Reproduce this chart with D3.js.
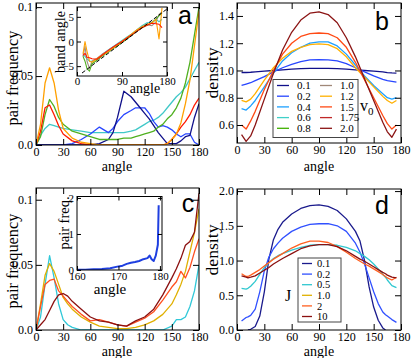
<!DOCTYPE html>
<html>
<head>
<meta charset="utf-8">
<title>pair frequency / density vs angle</title>
<script src="https://d3js.org/d3.v7.min.js"></script>
<style>
body { margin: 0; background: white; }
svg text { font-family: "Liberation Serif", "Tinos", "Times New Roman", Times, "Nimbus Roman", "DejaVu Serif", serif; fill: black; }
svg text.letter { font-family: "Liberation Sans", Arimo, Arial, Helvetica, sans-serif; font-size: 25px; }
</style>
</head>
<body>
<script>
var width = 411, height = 358;

// ---- panel a : pair frequency vs angle
var angleA = [0,5,10,15,20,25,30,40,50,60,70,80,85,90,97,105,110,115,120,125,130,135,140,145,150,155,160,165,170,175,180];
var aNavy  = [0,0,0,0,0,0,0,0,0,0,0.001,0.004,0.009,0.02,0.039,0.035,0.031,0.027,0.023,0.019,0.014,0.009,0.005,0.001,0.001,0.001,0.003,0.006,0.007,0.02,0.03];
var aBlue  = [0,0,0,0,0,0,0,0.001,0.004,0.008,0.013,0.009,0.012,0.017,0.022,0.025,0.027,0.027,0.027,0.023,0.017,0.013,0.014,0.013,0.011,0.008,0.006,0.008,0.008,0.002,0];
var aTurq  = [0,0.007,0.012,0.015,0.014,0.013,0.012,0.011,0.01,0.009,0.009,0.009,0.009,0.009,0.009,0.01,0.011,0.013,0.015,0.017,0.018,0.02,0.023,0.027,0.031,0.035,0.038,0.042,0.048,0.054,0.06];
var aGreen = [0,0.006,0.022,0.033,0.028,0.02,0.015,0.01,0.008,0.006,0.004,0.004,0.004,0.004,0.005,0.005,0.006,0.007,0.008,0.009,0.01,0.013,0.015,0.019,0.022,0.027,0.034,0.045,0.06,0.08,0.1];
var aOrange= [0,0.015,0.045,0.056,0.045,0.025,0.012,0.005,0.002,0.001,0,0,0,0,0,0,0,0,0,0,0,0,0,0.001,0.004,0.008,0.016,0.03,0.047,0.072,0.097];
var aRed   = [0,0.01,0.027,0.029,0.022,0.014,0.008,0.003,0.001,0,0,0,0,0,0,0,0,0,0,0,0,0,0,0.001,0.004,0.008,0.013,0.017,0.022,0.029,0.034];

// inset a : band angle vs angle
var angleIn = [12,16,20,25,30,40,50,60,70,80,90,100,110,120,130,140,150,158,164,170];
var inGray  = [-3,-1,-4,-5.5,-4,-3.4,-2.6,-1.9,-1.2,-0.6,0,0.7,1.4,2.2,3.0,3.4,3.2,4.0,5.5,6.0];
var inOrange= [-2.5,0,-2,-4,-4.2,-3.5,-2.8,-2.2,-1.5,-0.8,0,0.8,1.6,2.4,3.0,3.5,3.8,4.5,0.5,6.8];
var inGreen = [-3,-4,-5.5,-6,-4.5,-3.8,-3,-2.3,-1.6,-0.9,-0.2,0.5,1.3,2.1,2.8,3.3,3.8,4.6,5.2,5.8];
var inTurq  = [-2.7,-3,-3.5,-4,-4,-3.6,-2.7,-1.9,-1.2,-0.5,0.2,0.9,1.6,2.4,3.2,3.8,3.9,4.5,4.0,4.5];
var inRed   = [-2.8,-2.4,-3.2,-3.3,-3.5,-3.6,-2.8,-2.0,-1.3,-0.6,0,0.7,1.4,2.1,2.8,3.3,3.7,3.6,3.5,2.8];
var refAngle = [10, 180];
var refBand  = [-6.4, 6.6];

// ---- panel b : density vs angle for v0
var angleB = [5,10,15,20,30,40,50,60,70,80,90,100,110,120,130,140,150,160,165,170,175];
var b01 = [0.985,0.985,0.987,0.99,0.995,1.0,1.005,1.01,1.013,1.015,1.016,1.015,1.013,1.01,1.005,1.0,0.995,0.99,0.985,0.982,0.98];
var b02 = [0.89,0.9,0.91,0.925,0.955,0.99,1.02,1.045,1.065,1.078,1.08,1.078,1.07,1.05,1.02,0.99,0.96,0.935,0.925,0.92,0.915];
var b04 = [0.72,0.71,0.74,0.78,0.88,0.98,1.07,1.13,1.17,1.2,1.21,1.21,1.18,1.12,1.04,0.96,0.89,0.83,0.8,0.79,0.8];
var b12 = [0.78,0.77,0.79,0.83,0.93,1.02,1.09,1.14,1.17,1.19,1.195,1.19,1.16,1.1,1.02,0.95,0.88,0.81,0.78,0.76,0.78];
var b15 = [0.6,0.57,0.63,0.7,0.86,1.0,1.12,1.2,1.25,1.27,1.275,1.27,1.24,1.17,1.06,0.93,0.8,0.67,0.61,0.57,0.6];
var b20 = [0.53,0.48,0.52,0.6,0.79,0.98,1.15,1.28,1.37,1.42,1.43,1.41,1.35,1.24,1.1,0.94,0.78,0.62,0.55,0.51,0.57];
var v0Labels = ["0.1","0.2","0.4","0.6","0.8","1.0","1.2","1.5","1.75","2.0"];

// ---- panel c : pair frequency vs angle
var angleC = [0,5,10,15,20,25,30,35,40,50,60,70,80,90,100,110,120,130,140,150,155,160,165,170,175,180];
var cCyan  = [0,0.01,0.035,0.057,0.04,0.02,0.008,0.004,0.002,0,0,0,0,0,0,0,0,0,0,0.003,0.008,0.008,0.01,0.018,0.03,0.05];
var cGold  = [0,0.02,0.042,0.051,0.045,0.035,0.025,0.02,0.016,0.01,0.006,0.003,0.002,0.001,0.001,0.002,0.004,0.007,0.012,0.02,0.027,0.035,0.045,0.06,0.075,0.093];
var cOrange= [0,0.018,0.035,0.038,0.039,0.03,0.026,0.022,0.018,0.012,0.007,0.008,0.006,0.004,0.003,0.006,0.009,0.014,0.023,0.033,0.037,0.045,0.04,0.048,0.06,0.07];
var cDark  = [0,0.004,0.008,0.015,0.022,0.027,0.028,0.026,0.022,0.016,0.01,0.007,0.006,0.004,0.003,0.007,0.01,0.016,0.027,0.04,0.047,0.055,0.065,0.068,0.075,0.105];

// inset c
var angleInC = [160,162,164,166,168,170,171,172,173,174,175,176,177,177.5,178,178.5,179,179.5,179.7];
var freqInC  = [0.01,0.01,0.02,0.03,0.05,0.1,0.12,0.17,0.2,0.22,0.25,0.3,0.33,0.4,0.3,0.25,0.4,0.7,1.8];

// ---- panel d : density vs angle for J
var angleD = [5,10,12,15,20,25,30,35,40,45,50,60,70,80,90,100,110,120,130,135,140,145,150,155,160,163,165,170,175];
var d01 = [null,null,0,0.01,0.05,0.2,0.55,1.02,1.3,1.45,1.55,1.67,1.75,1.79,1.8,1.78,1.72,1.6,1.42,1.28,1.0,0.62,0.33,0.14,0.03,0,null,null,null];
var d02 = [0.13,0.18,0.19,0.21,0.3,0.55,0.85,1.05,1.17,1.25,1.32,1.42,1.48,1.52,1.53,1.53,1.5,1.42,1.25,1.12,0.95,0.75,0.55,0.38,0.26,0.22,0.2,0.15,0.11];
var d05 = [0.6,0.59,0.6,0.63,0.7,0.8,0.9,0.97,1.03,1.07,1.1,1.15,1.19,1.22,1.23,1.23,1.22,1.19,1.14,1.1,1.06,1.01,0.95,0.88,0.8,0.76,0.72,0.64,0.61];
var d2  = [0.81,0.77,0.77,0.79,0.83,0.87,0.92,0.97,1.02,1.06,1.1,1.18,1.24,1.28,1.28,1.26,1.2,1.12,1.03,0.99,0.95,0.92,0.88,0.84,0.8,0.77,0.75,0.72,0.76];
var d10 = [0.78,0.76,0.75,0.76,0.78,0.82,0.86,0.9,0.95,0.99,1.03,1.1,1.17,1.21,1.23,1.23,1.2,1.14,1.06,1.02,0.99,0.95,0.91,0.87,0.83,0.81,0.79,0.76,0.75];
var jLabels = ["0.1","0.2","0.5","1.0","2","10"];

var angleTicks = [0,30,60,90,120,150,180];

var v0Colors = ["#10108a","#2846ff","#1ea0ff","#40d0c8","#40b000","#a08878","#ffb000","#ff4a14","#c02828","#8b1414"];
var jColors  = ["#1a1a8c","#3050ff","#30c8d0","#e0b000","#ff6020","#8b1010"];

var serif = "'Liberation Serif', Tinos, 'Times New Roman', Times, serif";

var svg = d3.select("body").append("svg")
	.attr("width", width)
	.attr("height", height);

var line = d3.line()
	.defined(function(d){ return d[1] != null; })
	.x(function(d){ return d[0]; })
	.y(function(d){ return d[1]; });

var clipId = 0;

// white box + clip region, returns group for lines
function plotArea(x, y) {
	var x0 = x.range()[0], x1 = x.range()[1], y0 = y.range()[0], y1 = y.range()[1];
	svg.append("rect").attr("x", x0).attr("y", y1).attr("width", x1 - x0).attr("height", y0 - y1).attr("fill", "white");
	clipId++;
	svg.append("clipPath").attr("id", "clip" + clipId)
		.append("rect").attr("x", x0).attr("y", y1).attr("width", x1 - x0).attr("height", y0 - y1);
	return svg.append("g").attr("clip-path", "url(#clip" + clipId + ")");
}

function drawSeries(g, x, y, xs, ys, color, w, dash) {
	var pts = d3.zip(xs, ys).map(function(p){ return [x(p[0]), p[1] == null ? null : y(p[1])]; });
	g.append("path")
		.attr("d", line(pts))
		.attr("fill", "none")
		.attr("stroke", color)
		.attr("stroke-width", w || 1.3)
		.attr("stroke-dasharray", dash || null)
		.attr("stroke-linejoin", "round");
}

// frame with inward ticks on all four sides
function frame(x, y, xTicks, yTicks, xFmt, yFmt, fs, tick, pad) {
	var x0 = x.range()[0], x1 = x.range()[1], y0 = y.range()[0], y1 = y.range()[1];
	var axes = svg.append("g");
	var style = function(a) {
		a.select(".domain").remove();
		a.attr("font-family", serif).attr("font-size", fs);
	};
	axes.append("g").attr("transform", "translate(0," + y0 + ")")
		.call(d3.axisBottom(x).tickValues(xTicks).tickSizeInner(-tick).tickSizeOuter(0).tickPadding(pad).tickFormat(xFmt))
		.call(style);
	axes.append("g").attr("transform", "translate(0," + y1 + ")")
		.call(d3.axisTop(x).tickValues(xTicks).tickSizeInner(-tick).tickSizeOuter(0).tickFormat(""))
		.call(style);
	axes.append("g").attr("transform", "translate(" + x0 + ",0)")
		.call(d3.axisLeft(y).tickValues(yTicks).tickSizeInner(-tick).tickSizeOuter(0).tickPadding(3).tickFormat(yFmt))
		.call(style);
	axes.append("g").attr("transform", "translate(" + x1 + ",0)")
		.call(d3.axisRight(y).tickValues(yTicks).tickSizeInner(-tick).tickSizeOuter(0).tickFormat(""))
		.call(style);
	axes.append("rect").attr("x", x0).attr("y", y1).attr("width", x1 - x0).attr("height", y0 - y1)
		.attr("fill", "none").attr("stroke", "black").attr("stroke-width", 1);
}

function yTitle(txt, cx, cy, len, fs) {
	svg.append("text")
		.attr("transform", "translate(" + cx + "," + cy + ") rotate(-90)")
		.attr("text-anchor", "middle")
		.attr("dy", "0.35em")
		.attr("font-size", fs)
		.attr("textLength", len)
		.attr("lengthAdjust", "spacingAndGlyphs")
		.text(txt);
}

function xTitle(txt, cx, cy, fs) {
	svg.append("text")
		.attr("x", cx).attr("y", cy)
		.attr("text-anchor", "middle")
		.attr("dy", "0.35em")
		.attr("font-size", fs)
		.text(txt);
}

function letter(txt, cx, cy) {
	svg.append("text").attr("class", "letter")
		.attr("x", cx).attr("y", cy).attr("text-anchor", "middle").attr("dy", "0.35em")
		.text(txt);
}

var fmtFreq = function(d){ return d === 0 ? "0.0" : String(d); };
var fmt1 = d3.format(".1f");

// ===== panel a
var xa = d3.scaleLinear().domain([0, 180]).range([36, 199]);
var ya = d3.scaleLinear().domain([0, 0.103]).range([145, 3]);
var ga = plotArea(xa, ya);
drawSeries(ga, xa, ya, angleA, aTurq, "#40c8c8");
drawSeries(ga, xa, ya, angleA, aBlue, "#2846ff");
drawSeries(ga, xa, ya, angleA, aNavy, "#10108a");
drawSeries(ga, xa, ya, angleA, aGreen, "#50b020");
drawSeries(ga, xa, ya, angleA, aRed, "#ff1a00");
drawSeries(ga, xa, ya, angleA, aOrange, "#ffa000");
frame(xa, ya, angleTicks, [0, 0.05, 0.1], d3.format("d"), fmtFreq, 12, 6, 2);
yTitle("pair frequency", 12, 78, 95, 16);
xTitle("angle", 117, 166, 14);
letter("a", 185, 15);

// inset a
var xia = d3.scaleLinear().domain([0, 180]).range([77, 167]);
var yia = d3.scaleLinear().domain([-7, 7]).range([76, 7]);
var gia = plotArea(xia, yia);
drawSeries(gia, xia, yia, angleIn, inTurq, "#40c8c8", 1.1);
drawSeries(gia, xia, yia, angleIn, inGray, "#a09080", 1.1);
drawSeries(gia, xia, yia, angleIn, inGreen, "#50b020", 1.1);
drawSeries(gia, xia, yia, angleIn, inOrange, "#ffa000", 1.1);
drawSeries(gia, xia, yia, angleIn, inRed, "#ff1a00", 1.1);
drawSeries(gia, xia, yia, refAngle, refBand, "black", 1, "4,2");
frame(xia, yia, [0, 90, 180], [-5, 0, 5], d3.format("d"), d3.format("d"), 11, 4, 1);
yTitle("band angle", 60, 42, 62, 14);
svg.append("text").attr("x", 145).attr("y", 93).attr("text-anchor", "middle").attr("font-size", 14).text("angle");

// ===== panel b
var xb = d3.scaleLinear().domain([0, 180]).range([237, 401]);
var yb = d3.scaleLinear().domain([0.468, 1.495]).range([143, 3]);
var gb = plotArea(xb, yb);
var bSeries = [[b01, 0], [b02, 1], [b04, 2], [b12, 6], [b15, 7], [b20, 9]];
bSeries.forEach(function(s){ drawSeries(gb, xb, yb, angleB, s[0], v0Colors[s[1]]); });
frame(xb, yb, angleTicks, [0.6, 0.8, 1.0, 1.2, 1.4], d3.format("d"), fmt1, 12, 6, 2);
yTitle("density", 212, 73, 51, 16);
xTitle("angle", 319, 166, 14);
letter("b", 382, 21);

// legend b
var lb = svg.append("g");
lb.append("rect").attr("x", 273).attr("y", 79.5).attr("width", 85).attr("height", 58)
	.attr("fill", "white").attr("stroke", "#444").attr("stroke-width", 1);
v0Labels.forEach(function(lab, i){
	var col = Math.floor(i / 5), row = i % 5;
	var lx = 277 + col * 43, ly = 85.5 + row * 10.7;
	lb.append("line").attr("x1", lx).attr("x2", lx + 12).attr("y1", ly).attr("y2", ly)
		.attr("stroke", v0Colors[i]).attr("stroke-width", 1.3);
	lb.append("text").attr("x", lx + 20).attr("y", ly).attr("dy", "0.35em").attr("font-size", 11).text(lab);
});
var v0 = svg.append("text").attr("x", 360).attr("y", 111).attr("font-size", 16);
v0.append("tspan").text("v");
v0.append("tspan").attr("font-size", 11).attr("dy", 4).text("0");

// ===== panel c
var xc = d3.scaleLinear().domain([0, 180]).range([36, 199]);
var yc = d3.scaleLinear().domain([0, 0.109]).range([330, 188]);
var gc = plotArea(xc, yc);
drawSeries(gc, xc, yc, angleC, cCyan, "#30c8d8");
drawSeries(gc, xc, yc, angleC, cGold, "#e0b000");
drawSeries(gc, xc, yc, angleC, cOrange, "#ff5020");
drawSeries(gc, xc, yc, angleC, cDark, "#8b1010");
frame(xc, yc, angleTicks, [0, 0.05, 0.1], d3.format("d"), fmtFreq, 12, 6, 2);
yTitle("pair frequency", 12, 261, 95, 16);
xTitle("angle", 117, 351, 14);
letter("c", 188, 203);

// inset c
var xic = d3.scaleLinear().domain([160, 180.5]).range([77, 162]);
var yic = d3.scaleLinear().domain([0, 2.04]).range([270, 196.5]);
var gic = plotArea(xic, yic);
drawSeries(gic, xic, yic, angleInC, freqInC, "#1f3fe0", 2);
frame(xic, yic, [160, 170, 180], [0, 1, 2], d3.format("d"), d3.format("d"), 11, 4, 2);
yTitle("pair freq.", 64, 223, 53, 14);
svg.append("text").attr("x", 110).attr("y", 294).attr("text-anchor", "middle").attr("font-size", 15).text("angle");

// ===== panel d
var xd = d3.scaleLinear().domain([0, 180]).range([237, 401]);
var yd = d3.scaleLinear().domain([0, 2.03]).range([330, 189]);
var gd = plotArea(xd, yd);
var dSeries = [[d01, 0], [d02, 1], [d05, 2], [d2, 4], [d10, 5]];
dSeries.forEach(function(s){ drawSeries(gd, xd, yd, angleD, s[0], jColors[s[1]]); });
frame(xd, yd, angleTicks, [0, 0.5, 1.0, 1.5, 2.0], d3.format("d"), fmt1, 12, 6, 2);
yTitle("density", 212, 250, 51, 16);
xTitle("angle", 319, 351, 14);
letter("d", 382, 205);

// legend d
var ld = svg.append("g");
ld.append("rect").attr("x", 298).attr("y", 258).attr("width", 43).attr("height", 64)
	.attr("fill", "white").attr("stroke", "#444").attr("stroke-width", 1);
jLabels.forEach(function(lab, i){
	var ly = 263.5 + i * 10.6;
	ld.append("line").attr("x1", 302).attr("x2", 312).attr("y1", ly).attr("y2", ly)
		.attr("stroke", jColors[i]).attr("stroke-width", 1.3);
	ld.append("text").attr("x", 317).attr("y", ly).attr("dy", "0.35em").attr("font-size", 10.5).text(lab);
});
svg.append("text").attr("x", 288).attr("y", 295).attr("dy", "0.35em").attr("text-anchor", "middle").attr("font-size", 16).text("J");
</script>
</body>
</html>
